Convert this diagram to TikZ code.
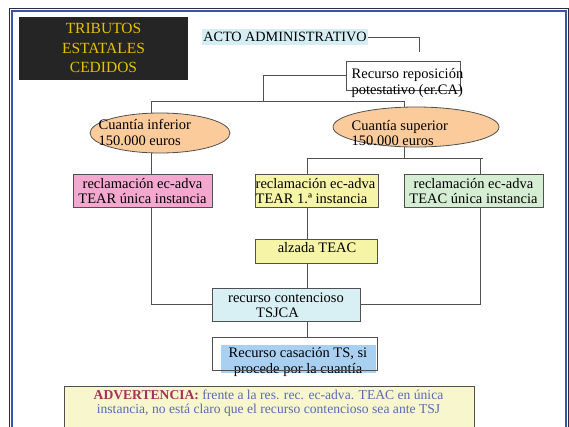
\documentclass[tikz,border=0pt]{standalone}
\usepackage{fontspec}
\setmainfont{Liberation Serif}
\usetikzlibrary{shapes.geometric}
\definecolor{blackbg}{HTML}{252525}
\definecolor{gold}{HTML}{E6C200}
\definecolor{actobg}{HTML}{D4EEF4}
\definecolor{peach}{HTML}{FCCB9C}
\definecolor{pinkbg}{HTML}{F4A8D0}
\definecolor{yellowbg}{HTML}{F6F4A6}
\definecolor{greenbg}{HTML}{D5EDD2}
\definecolor{cyanbg}{HTML}{D8EFF3}
\definecolor{bluehl}{HTML}{A9D0F1}
\definecolor{advbg}{HTML}{F7F6CC}
\definecolor{advred}{HTML}{A8305C}
\definecolor{advblue}{HTML}{5A6AB8}
\definecolor{frameblue}{HTML}{3A55A8}
\definecolor{linegray}{HTML}{505050}
\tikzset{
  conn/.style={draw=linegray, line width=0.8pt},
  boxst/.style={draw=linegray, line width=0.8pt, rectangle, inner sep=0pt},
  ell/.style={draw=linegray, line width=0.8pt, ellipse, fill=peach, inner sep=0pt},
  txt/.style={inner sep=0pt, font=\fontsize{14.5}{15.5}\selectfont},
}
\begin{document}
\begin{tikzpicture}[x=1pt,y=-1pt]
\useasboundingbox (0,0) rectangle (569,426);
% frame
\begin{scope}
\clip (0,0) rectangle (569,426);
\draw[draw=blackbg!80!frameblue, line width=1pt] (9.5,8.5) rectangle (568.5,440);
\draw[draw=frameblue, line width=2.5pt] (12,11) rectangle (566,440);
\end{scope}
% title
\node[rectangle, fill=blackbg, minimum width=169pt, minimum height=63pt, inner sep=0pt] (title) at (103.5,48.5) {};
\node[inner sep=0pt, align=center, text=gold, font=\fontsize{15.5}{19.5}\selectfont] (titletxt) at (103.5,48) {TRIBUTOS\\ESTATALES\\CEDIDOS};
% acto
\node[fill=actobg, inner sep=1pt, minimum width=162pt, minimum height=16pt, font=\fontsize{14.2}{15}\selectfont] (acto) at (285,37) {ACTO ADMINISTRATIVO};
\coordinate (actoend) at (419,52);
\draw[conn] (acto.east) -| (actoend);
% recurso reposicion
\node[boxst, minimum width=114pt, minimum height=29pt] (rec) at (403,75.5) {};
\node[txt, anchor=west, align=left] (rectxt) at (351.5,83) {Recurso reposición\\potestativo (er.CA)};
\coordinate (j1) at (263,101);
\coordinate (b1) at (151,101);
\coordinate (b2) at (404,101);
\draw[conn] (rec.west) -| (j1);
% ellipses
\node[ell, minimum width=140pt, minimum height=40pt] (inf) at (160,133) {};
\node[txt, anchor=west, align=left] (inftxt) at (98.5,132.5) {Cuantía inferior\\150.000 euros};
\node[ell, minimum width=166pt, minimum height=40pt] (sup) at (416,127) {};
\node[txt, anchor=west, align=left] (suptxt) at (351.5,133) {Cuantía superior\\150.000 euros};
\draw[conn] (b1 |- inf.north) -- (b1) -- (b2) -- (b2 |- sup.north);
% second level
\coordinate (c1) at (307,158);
\coordinate (c2) at (483,158);
\coordinate (r1) at (480,158);
\coordinate (r2) at (480,304);
\coordinate (l2) at (151,304);
\node[boxst, fill=pinkbg, minimum width=139pt, minimum height=33pt] (pink) at (142.5,190.5) {};
\node[txt, align=center] (pinktxt) at (142.5,191) {reclamación ec-adva\\TEAR única instancia};
\node[boxst, fill=yellowbg, minimum width=123pt, minimum height=33pt] (tear) at (316.5,190.5) {};
\node[txt, anchor=west, align=left] (teartxt) at (255.5,191) {reclamación ec-adva\\TEAR 1.ª instancia};
\node[boxst, fill=cyanbg, minimum width=148pt, minimum height=33pt] (tsjca) at (286,304.5) {};
\node[txt, align=center] (tsjcatxt) at (286,305.5) {recurso contencioso\\\hspace*{-17pt}TSJCA};
% connectors behind teac
\draw[conn] (sup.south -| b2) -- (b2 |- c1);
\draw[conn] (c1) -- (c2);
\draw[conn] (c1) -- (c1 |- tear.north);
\draw[conn] (r1) -- (r2) -- (tsjca.east |- r2);
\draw[conn] (b1 |- inf.south) -- (b1 |- pink.north);
\draw[conn] (b1 |- pink.south) -- (l2) -- (tsjca.west |- l2);
\node[boxst, fill=greenbg, minimum width=139pt, minimum height=33pt] (teac) at (473.5,190.5) {};
\node[txt, align=center] (teactxt) at (473.5,191) {reclamación ec-adva\\TEAC única instancia};
% alzada
\node[boxst, fill=yellowbg, minimum width=122pt, minimum height=24pt] (alz) at (316,251) {};
\node[txt] (alztxt) at (317,248) {alzada TEAC};
\draw[conn] (c1 |- tear.south) -- (c1 |- alz.north);
\draw[conn] (c1 |- alz.south) -- (c1 |- tsjca.north);
% casacion
\node[fill=white, inner sep=0pt, outer sep=0pt, minimum width=165pt, minimum height=33pt] (cas) at (294.5,353.5) {};
\node[fill=bluehl, inner sep=0pt, minimum width=155pt, minimum height=28pt] (cashl) at (298.5,359) {};
\node[txt, align=center] (castxt) at (298,362) {Recurso casación TS, si\\procede por la cuantía};
\draw[draw=linegray, line width=0.8pt] (cas.north west) rectangle (cas.south east);
\draw[conn] (c1 |- tsjca.south) -- (c1 |- cas.north);
% advertencia
\node[boxst, fill=advbg, minimum width=410pt, minimum height=50pt] (adv) at (269,411) {};
\node[inner sep=0pt, align=center, text=advblue, font=\fontsize{13.6}{13.4}\selectfont] (advtxt) at (268.5,403) {\textcolor{advred}{\textbf{ADVERTENCIA:}} frente a la res. rec. ec-adva. TEAC en única\\instancia, no está claro que el recurso contencioso sea ante TSJ};
\end{tikzpicture}
\end{document}
